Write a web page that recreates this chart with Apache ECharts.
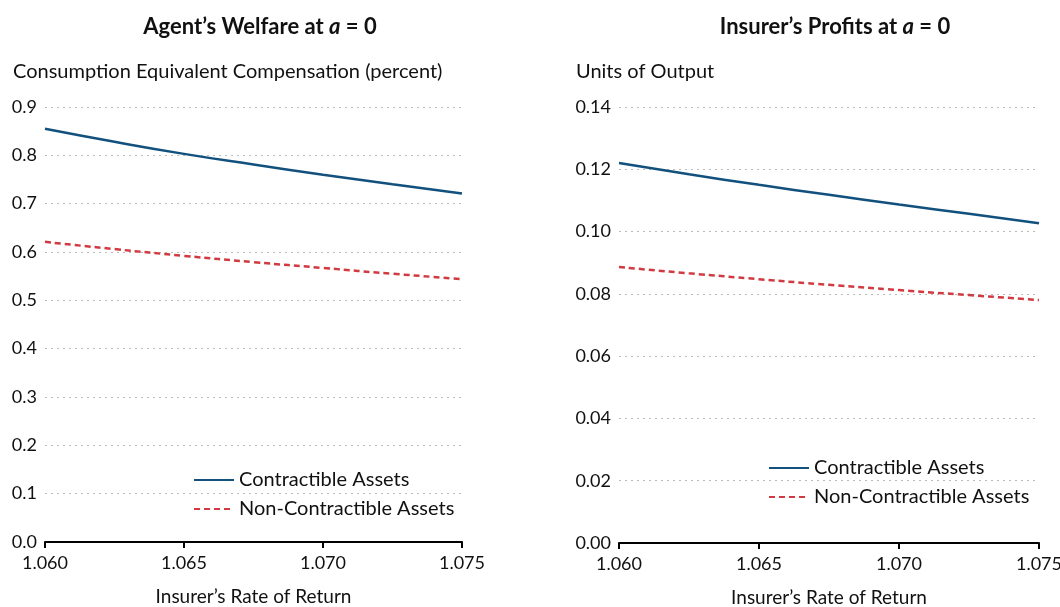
<!DOCTYPE html>
<html>
<head>
<meta charset="utf-8">
<script src="https://cdn.jsdelivr.net/npm/echarts@6/dist/echarts.min.js"></script>
<style>
  html, body { margin: 0; padding: 0; background: #fff; }
  #chart { width: 1060px; height: 607px; }
</style>
</head>
<body>
<div id="chart"></div>
<script>
// insurer's rate of return (x)
const rates = [1.060, 1.0625, 1.065, 1.0675, 1.070, 1.0725, 1.075]

// left panel: consumption equivalent compensation (percent)
const welfareContractible = [0.855, 0.828, 0.803, 0.781, 0.760, 0.740, 0.721]
const welfareNonContractible = [0.621, 0.606, 0.592, 0.579, 0.567, 0.555, 0.544]

// right panel: insurer's profits (units of output)
const profitContractible = [0.1220, 0.1184, 0.1150, 0.1118, 0.1087, 0.1057, 0.1027]
const profitNonContractible = [0.0886, 0.0866, 0.0847, 0.0829, 0.0812, 0.0796, 0.0780]

const BLUE = '#12507e'
const RED = '#d13a40'
const FONT = 'Lato'

const pairs = (ys) => rates.map((x, i) => [x, ys[i]])

const chart = echarts.init(document.getElementById('chart'))

function xAxis(gridIndex) {
  return {
    type: 'value',
    gridIndex,
    min: 1.06,
    max: 1.075,
    interval: 0.005,
    name: 'Insurer\u2019s Rate of Return',
    nameLocation: 'middle',
    nameGap: 45,
    nameTextStyle: { color: '#111', fontSize: 19, fontFamily: FONT },
    axisLine: { lineStyle: { color: '#000', width: 2 } },
    axisTick: { show: true, length: 6, lineStyle: { color: '#000', width: 2 } },
    axisLabel: {
      color: '#111', fontSize: 18, fontFamily: FONT, margin: 12,
      formatter: (v) => v.toFixed(3),
    },
    splitLine: { show: false },
  }
}

function yAxis(gridIndex, max, interval, digits) {
  return {
    type: 'value',
    gridIndex,
    min: 0,
    max,
    interval,
    axisLine: { show: false },
    axisTick: { show: false },
    axisLabel: {
      color: '#111', fontSize: 18, fontFamily: FONT, margin: 8,
      formatter: (v) => v.toFixed(digits),
    },
    splitLine: { lineStyle: { color: '#bbb', type: [2, 4], width: 1 } },
  }
}

function lineSeries(name, xi, data, color, dashed) {
  return {
    name,
    type: 'line',
    xAxisIndex: xi,
    yAxisIndex: xi,
    data,
    symbol: 'none',
    smooth: true,
    lineStyle: { color, width: 2.5, type: dashed ? [6, 4] : 'solid' },
    itemStyle: { color },
  }
}

const titleStyle = {
  fontSize: 22, fontWeight: 'bold', color: '#111', fontFamily: FONT,
  rich: { i: { fontSize: 22, fontWeight: 'bold', fontStyle: 'italic', color: '#111', fontFamily: FONT } },
}
const nameStyle = { fontSize: 20, fontWeight: 'normal', color: '#111', fontFamily: FONT }

const legendBase = {
  orient: 'vertical',
  itemWidth: 40,
  itemHeight: 12,
  itemGap: 9,
  itemStyle: { opacity: 0 },
  textStyle: { color: '#111', fontSize: 20, fontFamily: FONT },
  data: ['Contractible Assets', 'Non-Contractible Assets'],
}

chart.setOption({
  animation: false,
  title: [
    { text: 'Agent\u2019s Welfare at {i|a} = 0', left: 255, top: 11, textAlign: 'center', textStyle: titleStyle },
    { text: 'Insurer\u2019s Profits at {i|a} = 0', left: 830, top: 11, textAlign: 'center', textStyle: titleStyle },
    { text: 'Consumption Equivalent Compensation (percent)', left: 8, top: 57, textStyle: nameStyle },
    { text: 'Units of Output', left: 571, top: 57, textStyle: nameStyle },
  ],
  legend: [
    Object.assign({ left: 188, top: 465 }, legendBase),
    Object.assign({ left: 763, top: 453 }, legendBase),
  ],
  grid: [
    { left: 45, right: 598, top: 107, bottom: 65, outerBoundsMode: 'none' },
    { left: 619, right: 21, top: 107, bottom: 64, outerBoundsMode: 'none' },
  ],
  xAxis: [xAxis(0), xAxis(1)],
  yAxis: [yAxis(0, 0.9, 0.1, 1), yAxis(1, 0.14, 0.02, 2)],
  series: [
    lineSeries('Contractible Assets', 0, pairs(welfareContractible), BLUE, false),
    lineSeries('Non-Contractible Assets', 0, pairs(welfareNonContractible), RED, true),
    lineSeries('Contractible Assets', 1, pairs(profitContractible), BLUE, false),
    lineSeries('Non-Contractible Assets', 1, pairs(profitNonContractible), RED, true),
  ],
})
</script>
</body>
</html>
